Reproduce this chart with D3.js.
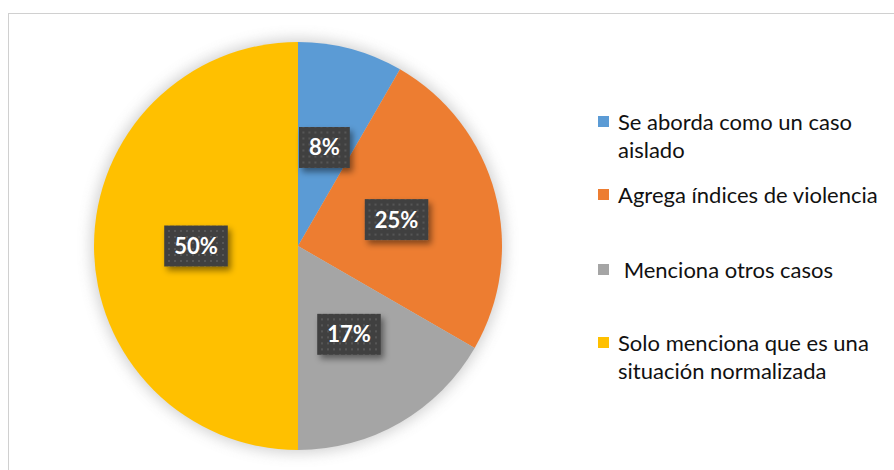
<!DOCTYPE html>
<html>
<head>
<meta charset="utf-8">
<script src="https://cdn.jsdelivr.net/npm/d3@7"></script>
<style>
  body { margin: 0; background: #fff; }
  svg { display: block; }
  .legend-text { font-family: Lato, "Open Sans", sans-serif; font-size: 22px; fill: #111; white-space: pre; }
  .pct { font-family: Lato, "Open Sans", sans-serif; font-weight: bold; font-size: 22px; fill: #fff; }
</style>
</head>
<body>
<div id="vis"></div>
<script>
// Data
const categories = [
    ['Se aborda como un caso', 'aislado'],
    ['Agrega índices de violencia'],
    [' Menciona otros casos'],
    ['Solo menciona que es una', 'situación normalizada']
];
const counts = [1, 3, 2, 6];
const colors = ['#5B9BD5', '#ED7D31', '#A5A5A5', '#FFC000'];

const W = 894, H = 470;
const cx = 298, cy = 246, radius = 204;

const svg = d3.select('#vis').append('svg')
    .attr('width', W)
    .attr('height', H);

const defs = svg.append('defs');

// soft glow behind the pie
defs.append('filter')
    .attr('id', 'glow')
    .attr('x', '-20%').attr('y', '-20%').attr('width', '140%').attr('height', '140%')
    .append('feGaussianBlur')
    .attr('stdDeviation', 7);

// drop shadow for the label boxes
const sh = defs.append('filter')
    .attr('id', 'boxshadow')
    .attr('x', '-30%').attr('y', '-30%').attr('width', '160%').attr('height', '160%');
sh.append('feDropShadow')
    .attr('dx', 3).attr('dy', 4)
    .attr('stdDeviation', 3)
    .attr('flood-color', '#000')
    .attr('flood-opacity', 0.45);

// dotted texture inside label boxes
const pat = defs.append('pattern')
    .attr('id', 'dots')
    .attr('width', 6).attr('height', 6)
    .attr('patternUnits', 'userSpaceOnUse');
pat.append('rect').attr('width', 6).attr('height', 6).attr('fill', '#404040');
pat.append('rect').attr('x', 2).attr('y', 2).attr('width', 2).attr('height', 2).attr('fill', '#575757');

// chart border
svg.append('rect')
    .attr('x', 8.5).attr('y', 13.5)
    .attr('width', W + 20).attr('height', H + 20)
    .attr('fill', '#fff')
    .attr('stroke', '#d0d0d0')
    .attr('stroke-width', 1);

const g = svg.append('g').attr('transform', `translate(${cx},${cy})`);

g.append('circle')
    .attr('r', radius + 3)
    .attr('fill', '#9a9a9a')
    .attr('opacity', 0.45)
    .attr('filter', 'url(#glow)');

const pie = d3.pie().sort(null).value(d => d);
const arcs = pie(counts);
const arc = d3.arc().innerRadius(0).outerRadius(radius);
const total = d3.sum(counts);
const fmt = d3.format('.0%');

g.selectAll('path.slice')
    .data(arcs)
    .enter()
    .append('path')
    .attr('class', 'slice')
    .attr('d', arc)
    .attr('fill', (d, i) => colors[i]);

// percentage labels
const labels = g.selectAll('g.lbl')
    .data(arcs)
    .enter()
    .append('g')
    .attr('class', 'lbl')
    .attr('transform', d => `translate(${arc.centroid(d)})`);

labels.append('text')
    .attr('class', 'pct')
    .attr('text-anchor', 'middle')
    .attr('dy', '0.36em')
    .text(d => fmt(d.value / total));

labels.each(function () {
    const t = d3.select(this).select('text');
    const w = t.node().getComputedTextLength();
    const bw = w + 20, bh = 41;
    d3.select(this).insert('rect', 'text')
        .attr('x', -bw / 2).attr('y', -bh / 2)
        .attr('width', bw).attr('height', bh)
        .attr('fill', 'url(#dots)')
        .attr('filter', 'url(#boxshadow)');
});

// legend
const legendY = [122, 195, 270, 343];
const lineH = 28;
const legend = svg.append('g').attr('class', 'legend');

const items = legend.selectAll('g')
    .data(categories)
    .enter()
    .append('g')
    .attr('transform', (d, i) => `translate(598,${legendY[i]})`);

items.append('rect')
    .attr('x', 0).attr('y', -6)
    .attr('width', 11).attr('height', 11)
    .attr('fill', (d, i) => colors[i]);

items.append('text')
    .attr('class', 'legend-text')
    .selectAll('tspan')
    .data(d => d)
    .enter()
    .append('tspan')
    .attr('x', 20)
    .attr('y', (d, j) => j * lineH)
    .attr('dy', '0.35em')
    .text(d => d);
</script>
</body>
</html>
